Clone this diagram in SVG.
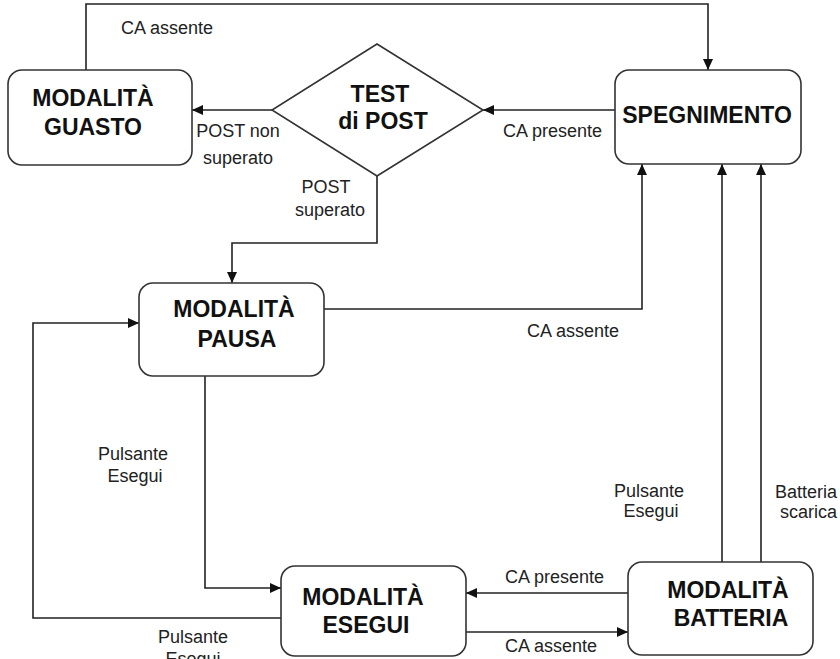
<svg xmlns="http://www.w3.org/2000/svg" width="840" height="659" viewBox="0 0 840 659">
<style>
.box{fill:#fff;stroke:#333;stroke-width:1.6}
.t{font-family:"Liberation Sans",Arial,sans-serif;font-weight:bold;font-size:23px;fill:#111;text-anchor:middle}
.l{font-family:"Liberation Sans",Arial,sans-serif;font-size:18px;fill:#222}
.c{text-anchor:middle}
.e{fill:none;stroke:#222;stroke-width:1.6}
</style>
<defs>
<marker id="ah" markerUnits="userSpaceOnUse" markerWidth="11" markerHeight="10" refX="11" refY="5" orient="auto">
<path d="M0,0 L11,5 L0,10 z" fill="#111"/>
</marker>
</defs>
<rect width="840" height="659" fill="#fff"/>
<g id="connectors">
<path class="e" d="M86,70 V4 H708 V70" marker-end="url(#ah)"/>
<path class="e" d="M272,110 H192" marker-end="url(#ah)"/>
<path class="e" d="M615,110 H483" marker-end="url(#ah)"/>
<path class="e" d="M377,176 V243 H232 V283" marker-end="url(#ah)"/>
<path class="e" d="M324,309 H642 V164" marker-end="url(#ah)"/>
<path class="e" d="M281,618 H33 V323 H139" marker-end="url(#ah)"/>
<path class="e" d="M205,376 V588 H281" marker-end="url(#ah)"/>
<path class="e" d="M628,593 H466" marker-end="url(#ah)"/>
<path class="e" d="M466,632 H628" marker-end="url(#ah)"/>
<path class="e" d="M722,562 V164" marker-end="url(#ah)"/>
<path class="e" d="M761,562 V164" marker-end="url(#ah)"/>
<text class="l" x="121" y="34">CA assente</text>
<text class="l c" x="238" y="137">POST non</text>
<text class="l c" x="238" y="164">superato</text>
<text class="l" x="503" y="137">CA presente</text>
<text class="l c" x="326" y="193">POST</text>
<text class="l c" x="330" y="216">superato</text>
<text class="l" x="527" y="337">CA assente</text>
<text class="l c" x="133" y="460">Pulsante</text>
<text class="l c" x="135" y="482">Esegui</text>
<text class="l c" x="193" y="643">Pulsante</text>
<text class="l c" x="193" y="665">Esegui</text>
<text class="l" x="505" y="583">CA presente</text>
<text class="l" x="505" y="652">CA assente</text>
<text class="l c" x="649" y="497">Pulsante</text>
<text class="l c" x="651" y="517">Esegui</text>
<text class="l" x="775" y="498">Batteria</text>
<text class="l" x="780" y="518">scarica</text>
</g>
<g id="guasto">
<rect class="box" x="8" y="70" width="184" height="95" rx="14"/>
<text class="t" x="93" y="106">MODALITÀ</text>
<text class="t" x="93" y="135">GUASTO</text>
</g>
<g id="test">
<path class="box" d="M377,44 L483,110 L377,176 L272,110 z"/>
<text class="t" x="380" y="102">TEST</text>
<text class="t" x="383" y="129">di POST</text>
</g>
<g id="spegnimento">
<rect class="box" x="615" y="70" width="186" height="94" rx="14"/>
<text class="t" x="707" y="123">SPEGNIMENTO</text>
</g>
<g id="pausa">
<rect class="box" x="139" y="283" width="185" height="93" rx="14"/>
<text class="t" x="234" y="317">MODALITÀ</text>
<text class="t" x="237" y="347">PAUSA</text>
</g>
<g id="esegui">
<rect class="box" x="281" y="566" width="185" height="90" rx="14"/>
<text class="t" x="363" y="605">MODALITÀ</text>
<text class="t" x="366" y="633">ESEGUI</text>
</g>
<g id="batteria">
<rect class="box" x="628" y="562" width="185" height="93" rx="14"/>
<text class="t" x="728" y="598">MODALITÀ</text>
<text class="t" x="731" y="626">BATTERIA</text>
</g>
</svg>
